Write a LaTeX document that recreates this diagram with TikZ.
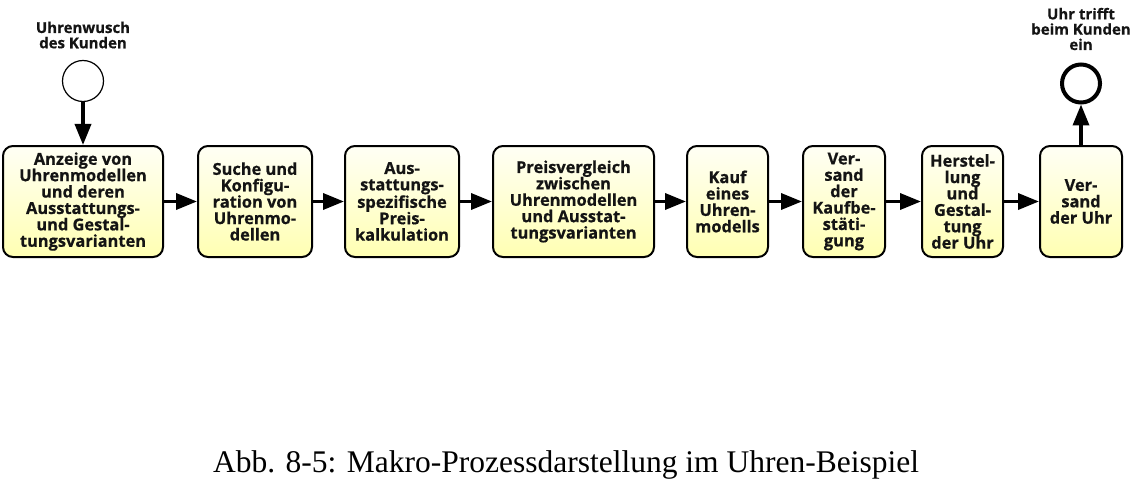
\documentclass[tikz,border=0pt]{standalone}
\usepackage{fontspec}
\setmainfont{Liberation Serif}
\newfontfamily\osans[FakeBold=0.6]{Open Sans}
\usetikzlibrary{arrows.meta,positioning}
\begin{document}
\begin{tikzpicture}[x=1pt,y=1pt,
  task/.style={draw=black,line width=2pt,rounded corners=10pt,
    top color=yellow!4,bottom color=yellow!30!white,
    minimum height=111pt,align=center,inner sep=0pt,
    font=\osans\bfseries\fontsize{16.4}{16.4}\selectfont,text=black!92},
  flow/.style={line width=3.5pt,-{Triangle[length=21pt,width=16pt]}},
  evlabel/.style={align=center,font=\osans\bfseries\fontsize{15}{15.3}\selectfont,text=black!92}
]
\useasboundingbox (0,0) rectangle (1137,491);
\node[task,minimum width=160pt] (t1) at (83,289.5) {Anzeige von\\Uhrenmodellen\\und deren\\Ausstattungs-\\und Gestal-\\tungsvarianten};
\node[task,minimum width=114pt] (t2) at (255,289.5) {Suche und\\Konfigu-\\ration von\\Uhrenmo-\\dellen};
\node[task,minimum width=114pt] (t3) at (402,289.5) {Aus-\\stattungs-\\spezifische\\Preis-\\kalkulation};
\node[task,minimum width=161pt] (t4) at (573.5,289.5) {Preisvergleich\\zwischen\\Uhrenmodellen\\und Ausstat-\\tungsvarianten};
\node[task,minimum width=81pt] (t5) at (727.5,289.5) {Kauf\\eines\\Uhren-\\modells};
\node[task,minimum width=82pt] (t6) at (844,289.5) {Ver-\\sand\\der\\Kaufbe-\\stäti-\\gung};
\node[task,minimum width=81pt] (t7) at (962.5,289.5) {Herstel-\\lung\\und\\Gestal-\\tung\\der Uhr};
\node[task,minimum width=82pt] (t8) at (1081,289.5) {Ver-\\sand\\der Uhr};

\node[draw=black,line width=1.2pt,circle,minimum size=41pt,inner sep=0pt,fill=white] (start) at (83,410) {};
\node[draw=black,line width=4pt,circle,minimum size=38pt,inner sep=0pt,fill=white] (end) at (1081,407.5) {};

\node[evlabel] (sl) at (83,456) {Uhrenwusch\\des Kunden};
\node[evlabel] (el) at (1081,462) {Uhr trifft\\beim Kunden\\ein};

\draw[flow] (start) -- (t1);
\draw[flow] (t1) -- (t2);
\draw[flow] (t2) -- (t3);
\draw[flow] (t3) -- (t4);
\draw[flow] (t4) -- (t5);
\draw[flow] (t5) -- (t6);
\draw[flow] (t6) -- (t7);
\draw[flow] (t7) -- (t8);
\draw[flow] (t8) -- (end);

\node[font=\fontsize{31.5}{34}\selectfont,anchor=base] (cap) at (566,19) {Abb. 8-5: Makro-Prozessdarstellung im Uhren-Beispiel};
\end{tikzpicture}
\end{document}
